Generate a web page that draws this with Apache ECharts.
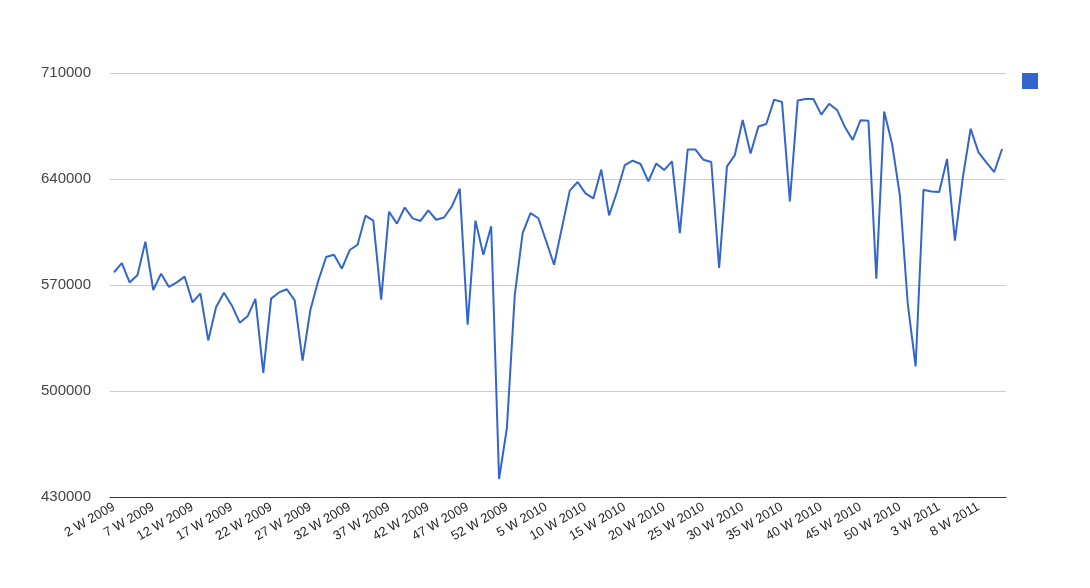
<!DOCTYPE html>
<html>
<head>
<meta charset="utf-8">
<script src="https://cdn.jsdelivr.net/npm/echarts@6/dist/echarts.min.js"></script>
<style>
html,body{margin:0;padding:0;background:#fff;}
#chart{width:1090px;height:588px;}
</style>
</head>
<body>
<div id="chart"></div>
<script>
const weeks2009 = [2,3,4,5,6,7,8,9,10,11,12,13,14,15,16,17,18,19,20,21,22,23,24,25,26,27,28,29,30,31,32,33,34,35,36,37,38,39,40,41,42,43,44,45,46,47,48,49,50,51,52];
const weeks2010 = [1,2,3,4,5,6,7,8,9,10,11,12,13,14,15,16,17,18,19,20,21,22,23,24,25,26,27,28,29,30,31,32,33,34,35,36,37,38,39,40,41,42,43,44,45,46,47,48,49,50,51,52];
const weeks2011 = [1,2,3,4,5,6,7,8,9,10,11];
const categories = []
  .concat(weeks2009.map(w => w + ' W 2009'))
  .concat(weeks2010.map(w => w + ' W 2010'))
  .concat(weeks2011.map(w => w + ' W 2011'));

const values = [
  578300, 584500, 571700, 576600, 598600, 566700, 577500, 568700, 571700, 575500,
  558500, 564500, 533400, 555500, 564900, 556500, 545100, 549300, 560800, 511900,
  561000, 565100, 567200, 559800, 520000, 553700, 572800, 588500, 590000, 580800,
  593100, 596600, 615800, 612500, 560300, 618400, 610500, 621200, 614000, 612300,
  619300, 613100, 614600, 621900, 633600, 543800, 612500, 590000, 608800, 441900,
  475600, 563300, 604200, 617500, 614100, 598900, 583400, 607800, 632300, 638000,
  630500, 627200, 646100, 616000, 631400, 649200, 652100, 649900, 638400, 650300,
  645900, 651600, 604300, 659400, 659400, 652700, 651200, 581200, 648300, 655800,
  679000, 656900, 674700, 676300, 692400, 690900, 625200, 691900, 692800, 692800,
  682500, 689700, 685600, 674400, 665800, 678800, 678400, 574200, 684600, 663300,
  629100, 557600, 516200, 632900, 631800, 631400, 653200, 599300, 640700, 673200,
  657600, 651000, 644600, 659800
];

const yMin = 430000, yMax = 710000, yStep = 70000;
const seriesName = ' ';

const chart = echarts.init(document.getElementById('chart'), null, {renderer: 'canvas'});
chart.setOption({
  animation: false,
  backgroundColor: '#ffffff',
  textStyle: {fontFamily: 'Arial, "Liberation Sans", sans-serif'},
  grid: {left: 110, right: 84, top: 73, bottom: 91},
  legend: {
    show: true,
    left: 1017, top: 68,
    icon: 'rect', itemWidth: 16, itemHeight: 16,
    data: [seriesName],
    textStyle: {fontSize: 13, color: '#222'}
  },
  xAxis: {
    type: 'category',
    data: categories,
    boundaryGap: true,
    axisLine: {show: true, lineStyle: {color: '#333', width: 1}},
    axisTick: {show: false},
    axisLabel: {
      interval: 4, rotate: 30, fontSize: 13, color: '#222', margin: 9,
      fontFamily: 'Arial, "Liberation Sans", sans-serif'
    },
    splitLine: {show: false}
  },
  yAxis: {
    type: 'value',
    min: yMin, max: yMax, interval: yStep,
    axisLine: {show: false},
    axisTick: {show: false},
    axisLabel: {fontSize: 15, color: '#444', margin: 19,
      formatter: v => String(v),
      fontFamily: 'Arial, "Liberation Sans", sans-serif'},
    splitLine: {show: true, lineStyle: {color: '#cccccc', width: 1}}
  },
  series: [{
    name: seriesName,
    type: 'line',
    data: values,
    showSymbol: false,
    symbol: 'none',
    lineStyle: {color: '#3366cc', width: 2},
    itemStyle: {color: '#3366cc'}
  }]
});
</script>
</body>
</html>
